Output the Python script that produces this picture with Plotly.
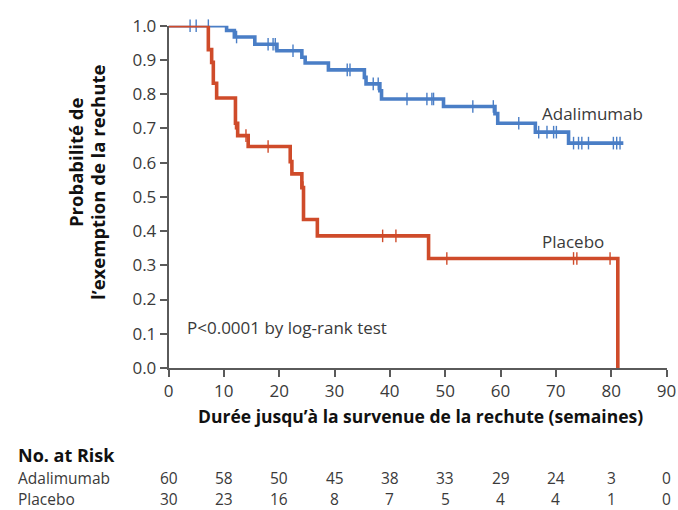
import plotly.graph_objects as go
import bisect

W, H = 678, 510

# ---- Data ----
ada_times = [0, 10.5, 11.9, 15.6, 19.6, 24.1, 24.7, 28.9, 35.4, 35.7, 38.2, 38.5, 49.7, 59.0, 59.5, 66.3, 72.3, 82.2]
ada_surv = [1.0, 0.986, 0.967, 0.946, 0.927, 0.908, 0.891, 0.871, 0.849, 0.830, 0.810, 0.786, 0.764, 0.743, 0.715, 0.689, 0.657, 0.657]
ada_censor = [3.9, 5.0, 7.2, 12.3, 18.0, 18.9, 19.3, 22.5, 32.3, 32.8, 37.0, 37.9, 43.1, 46.7, 47.6, 47.9,
              55.0, 58.7, 63.3, 66.9, 68.4, 69.6, 70.1, 73.2, 74.1, 74.7, 75.9, 80.4, 81.0, 81.6]

pla_times = [0, 7.2, 7.8, 8.1, 8.7, 12.1, 12.5, 14.4, 22.0, 22.3, 24.1, 24.4, 26.9, 47.0, 81.2]
pla_surv = [1.0, 0.930, 0.893, 0.832, 0.789, 0.715, 0.679, 0.647, 0.603, 0.567, 0.527, 0.434, 0.386, 0.320, 0.0]
pla_censor = [12.1, 14.0, 18.0, 24.3, 38.7, 41.1, 50.3, 73.2, 73.8, 79.8]

risk_times = [0, 10, 20, 30, 40, 50, 60, 70, 80, 90]
risk_ada = [60, 58, 50, 45, 38, 33, 29, 24, 3, 0]
risk_pla = [30, 23, 16, 8, 7, 5, 4, 4, 1, 0]

x_ticks = [0, 10, 20, 30, 40, 50, 60, 70, 80, 90]
y_ticks = [0.0, 0.1, 0.2, 0.3, 0.4, 0.5, 0.6, 0.7, 0.8, 0.9, 1.0]

BLUE = "#4a7ec6"
RED = "#cf4b2a"
AXIS = "#5a5a5a"
TXT = "#3a3a3a"
FONT = "Open Sans"
FS = 17
FS_RISK = 15.5


def step_value(times, surv, t):
    i = bisect.bisect_right(times, t) - 1
    return surv[max(i, 0)]


def px(x):
    return x / W


def py(y):
    return 1 - y / H


fig = go.Figure()

for times, surv, cens, col in [(ada_times, ada_surv, ada_censor, BLUE),
                               (pla_times, pla_surv, pla_censor, RED)]:
    fig.add_trace(go.Scatter(x=times, y=surv, mode="lines", line=dict(color=col, width=3.6, shape="hv"),
                             cliponaxis=False, showlegend=False, hoverinfo="skip"))
    fig.add_trace(go.Scatter(x=cens, y=[step_value(times, surv, c) for c in cens], mode="markers",
                             marker=dict(symbol="line-ns", size=9, line=dict(color=col, width=1.4)),
                             cliponaxis=False, showlegend=False, hoverinfo="skip"))

x0p, x1p = 168.5, 666.5
y0p, y1p = 25.7, 368.0

fig.update_layout(
    width=W, height=H,
    margin=dict(l=0, r=0, t=0, b=0, autoexpand=False),
    paper_bgcolor="white", plot_bgcolor="white",
    font=dict(family=FONT, color=TXT, size=FS),
    xaxis=dict(domain=[px(x0p), px(x1p)], range=[0, 90], tickvals=x_ticks,
               showline=True, linecolor=AXIS, linewidth=1.5, ticks="outside", ticklen=7,
               tickwidth=1.5, tickcolor=AXIS, showgrid=False, zeroline=False,
               tickfont=dict(family=FONT, size=FS, color=TXT), fixedrange=True),
    yaxis=dict(domain=[py(y1p), py(y0p)], range=[0, 1], tickvals=y_ticks, tickformat=".1f",
               showline=True, linecolor=AXIS, linewidth=1.5, ticks="outside", ticklen=7,
               tickwidth=1.5, tickcolor=AXIS, showgrid=False, zeroline=False,
               tickfont=dict(family=FONT, size=FS, color=TXT), fixedrange=True),
)

ann = []
# in-plot labels
ann.append(dict(x=67.2, y=0.743, xref="x", yref="y", text="Adalimumab", showarrow=False,
                xanchor="left", yanchor="middle", font=dict(family=FONT, size=FS, color=TXT)))
ann.append(dict(x=67.2, y=0.370, xref="x", yref="y", text="Placebo", showarrow=False,
                xanchor="left", yanchor="middle", font=dict(family=FONT, size=FS, color=TXT)))
ann.append(dict(x=3.0, y=0.117, xref="x", yref="y", text="P<0.0001 by log-rank test", showarrow=False,
                xanchor="left", yanchor="middle", font=dict(family=FONT, size=FS, color=TXT)))
# axis titles
ann.append(dict(x=px(75), y=py(163), xref="paper", yref="paper", text="<b>Probabilité de</b>",
                showarrow=False, textangle=-90, xanchor="center", yanchor="middle",
                font=dict(family="Open Sans", size=18.5, color="#111")))
ann.append(dict(x=px(97), y=py(183), xref="paper", yref="paper", text="<b>l’exemption de la rechute</b>",
                showarrow=False, textangle=-90, xanchor="center", yanchor="middle",
                font=dict(family="Open Sans", size=18.5, color="#111")))
ann.append(dict(x=px(420), y=py(416), xref="paper", yref="paper",
                text="<b>Durée jusqu’à la survenue de la rechute (semaines)</b>",
                showarrow=False, xanchor="center", yanchor="middle",
                font=dict(family="Open Sans", size=17.5, color="#111")))
# risk table
ann.append(dict(x=px(17), y=py(455), xref="paper", yref="paper", text="<b>No. at Risk</b>",
                showarrow=False, xanchor="left", yanchor="middle", borderpad=0,
                font=dict(family=FONT, size=18, color="#111")))
ann.append(dict(x=px(17), y=py(478), xref="paper", yref="paper", text="Adalimumab",
                showarrow=False, xanchor="left", yanchor="middle", borderpad=0,
                font=dict(family=FONT, size=FS_RISK, color=TXT)))
ann.append(dict(x=px(17), y=py(498.5), xref="paper", yref="paper", text="Placebo",
                showarrow=False, xanchor="left", yanchor="middle", borderpad=0,
                font=dict(family=FONT, size=FS_RISK, color=TXT)))
for t, a, p in zip(risk_times, risk_ada, risk_pla):
    ann.append(dict(x=t, y=py(478), xref="x", yref="paper", text=str(a), showarrow=False, borderpad=0,
                    xanchor="center", yanchor="middle", font=dict(family=FONT, size=FS_RISK, color=TXT)))
    ann.append(dict(x=t, y=py(498.5), xref="x", yref="paper", text=str(p), showarrow=False, borderpad=0,
                    xanchor="center", yanchor="middle", font=dict(family=FONT, size=FS_RISK, color=TXT)))

fig.update_layout(annotations=ann)
fig.write_html("out.html", config={"displayModeBar": False},
               post_script="document.body.style.margin='0';document.body.style.overflow='hidden';")
